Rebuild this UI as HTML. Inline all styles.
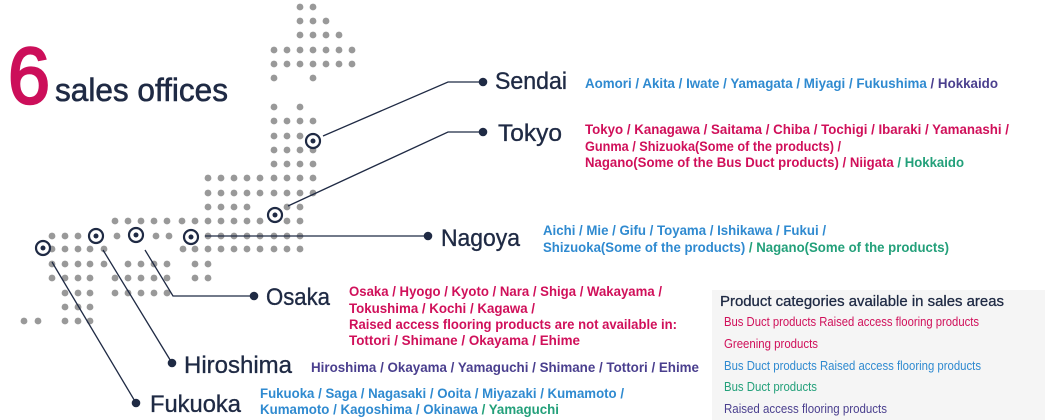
<!DOCTYPE html>
<html><head><meta charset="utf-8"><style>
html,body{margin:0;padding:0;background:#fff;}
svg{display:block;font-family:"Liberation Sans",sans-serif;}
.d circle{fill:#999;}
.n{fill:#1f2a44;font-size:24px;stroke:#1f2a44;stroke-width:0.35;}
.t{font-size:13.5px;font-weight:bold;}
.m{fill:#d0105a}.b{fill:#2f8ad0}.g{fill:#23a07a}.p{fill:#4a3f8e}
.l{font-size:12.5px;}
</style></head><body>
<svg width="1045" height="420" viewBox="0 0 1045 420">
<rect x="712" y="290" width="333" height="130" fill="#f5f5f5"/>
<g class="d">
<circle cx="300" cy="7" r="3.4"/><circle cx="313" cy="7" r="3.4"/>
<circle cx="300" cy="21" r="3.4"/><circle cx="313" cy="21" r="3.4"/><circle cx="326" cy="21" r="3.4"/>
<circle cx="300" cy="35" r="3.4"/><circle cx="313" cy="35" r="3.4"/><circle cx="326" cy="35" r="3.4"/><circle cx="339" cy="35" r="3.4"/>
<circle cx="274" cy="50" r="3.4"/><circle cx="287" cy="50" r="3.4"/><circle cx="300" cy="50" r="3.4"/><circle cx="313" cy="50" r="3.4"/><circle cx="326" cy="50" r="3.4"/><circle cx="339" cy="50" r="3.4"/><circle cx="352" cy="50" r="3.4"/>
<circle cx="274" cy="64" r="3.4"/><circle cx="287" cy="64" r="3.4"/><circle cx="300" cy="64" r="3.4"/><circle cx="313" cy="64" r="3.4"/><circle cx="326" cy="64" r="3.4"/><circle cx="339" cy="64" r="3.4"/><circle cx="352" cy="64" r="3.4"/>
<circle cx="274" cy="78" r="3.4"/><circle cx="313" cy="78" r="3.4"/>
<circle cx="274" cy="107" r="3.4"/><circle cx="300" cy="107" r="3.4"/>
<circle cx="274" cy="121" r="3.4"/><circle cx="287" cy="121" r="3.4"/><circle cx="300" cy="121" r="3.4"/><circle cx="313" cy="121" r="3.4"/>
<circle cx="274" cy="136" r="3.4"/><circle cx="287" cy="136" r="3.4"/><circle cx="300" cy="136" r="3.4"/>
<circle cx="274" cy="150" r="3.4"/><circle cx="287" cy="150" r="3.4"/><circle cx="300" cy="150" r="3.4"/><circle cx="313" cy="150" r="3.4"/>
<circle cx="274" cy="164" r="3.4"/><circle cx="287" cy="164" r="3.4"/><circle cx="300" cy="164" r="3.4"/><circle cx="313" cy="164" r="3.4"/>
<circle cx="208" cy="178" r="3.4"/><circle cx="221" cy="178" r="3.4"/><circle cx="234" cy="178" r="3.4"/><circle cx="247" cy="178" r="3.4"/><circle cx="260" cy="178" r="3.4"/><circle cx="274" cy="178" r="3.4"/><circle cx="287" cy="178" r="3.4"/><circle cx="300" cy="178" r="3.4"/><circle cx="313" cy="178" r="3.4"/>
<circle cx="208" cy="193" r="3.4"/><circle cx="221" cy="193" r="3.4"/><circle cx="234" cy="193" r="3.4"/><circle cx="247" cy="193" r="3.4"/><circle cx="260" cy="193" r="3.4"/><circle cx="274" cy="193" r="3.4"/><circle cx="287" cy="193" r="3.4"/><circle cx="300" cy="193" r="3.4"/><circle cx="313" cy="193" r="3.4"/>
<circle cx="208" cy="207" r="3.4"/><circle cx="221" cy="207" r="3.4"/><circle cx="234" cy="207" r="3.4"/><circle cx="247" cy="207" r="3.4"/><circle cx="287" cy="207" r="3.4"/><circle cx="300" cy="207" r="3.4"/>
<circle cx="115" cy="221" r="3.4"/><circle cx="128" cy="221" r="3.4"/><circle cx="141" cy="221" r="3.4"/><circle cx="154" cy="221" r="3.4"/><circle cx="167" cy="221" r="3.4"/><circle cx="182" cy="221" r="3.4"/><circle cx="195" cy="221" r="3.4"/><circle cx="208" cy="221" r="3.4"/><circle cx="221" cy="221" r="3.4"/><circle cx="234" cy="221" r="3.4"/><circle cx="247" cy="221" r="3.4"/><circle cx="260" cy="221" r="3.4"/><circle cx="287" cy="221" r="3.4"/><circle cx="300" cy="221" r="3.4"/>
<circle cx="52" cy="236" r="3.4"/><circle cx="65" cy="236" r="3.4"/><circle cx="78" cy="236" r="3.4"/><circle cx="117" cy="236" r="3.4"/><circle cx="156" cy="236" r="3.4"/><circle cx="169" cy="236" r="3.4"/><circle cx="208" cy="236" r="3.4"/><circle cx="221" cy="236" r="3.4"/><circle cx="234" cy="236" r="3.4"/><circle cx="247" cy="236" r="3.4"/><circle cx="260" cy="236" r="3.4"/><circle cx="274" cy="236" r="3.4"/><circle cx="287" cy="236" r="3.4"/><circle cx="300" cy="236" r="3.4"/>
<circle cx="52" cy="249" r="3.4"/><circle cx="65" cy="249" r="3.4"/><circle cx="78" cy="249" r="3.4"/><circle cx="90" cy="249" r="3.4"/><circle cx="104" cy="249" r="3.4"/><circle cx="183" cy="249" r="3.4"/><circle cx="195" cy="249" r="3.4"/><circle cx="208" cy="249" r="3.4"/><circle cx="221" cy="249" r="3.4"/><circle cx="234" cy="249" r="3.4"/><circle cx="247" cy="249" r="3.4"/><circle cx="260" cy="249" r="3.4"/><circle cx="274" cy="249" r="3.4"/><circle cx="287" cy="249" r="3.4"/><circle cx="300" cy="249" r="3.4"/>
<circle cx="52" cy="264" r="3.4"/><circle cx="65" cy="264" r="3.4"/><circle cx="78" cy="264" r="3.4"/><circle cx="90" cy="264" r="3.4"/><circle cx="104" cy="264" r="3.4"/><circle cx="128" cy="264" r="3.4"/><circle cx="141" cy="264" r="3.4"/><circle cx="154" cy="264" r="3.4"/><circle cx="167" cy="264" r="3.4"/><circle cx="195" cy="264" r="3.4"/><circle cx="208" cy="264" r="3.4"/>
<circle cx="52" cy="278" r="3.4"/><circle cx="65" cy="278" r="3.4"/><circle cx="78" cy="278" r="3.4"/><circle cx="90" cy="278" r="3.4"/><circle cx="115" cy="278" r="3.4"/><circle cx="128" cy="278" r="3.4"/><circle cx="141" cy="278" r="3.4"/><circle cx="154" cy="278" r="3.4"/><circle cx="167" cy="278" r="3.4"/><circle cx="195" cy="278" r="3.4"/><circle cx="208" cy="278" r="3.4"/>
<circle cx="65" cy="293" r="3.4"/><circle cx="78" cy="293" r="3.4"/><circle cx="90" cy="293" r="3.4"/><circle cx="115" cy="293" r="3.4"/><circle cx="128" cy="293" r="3.4"/><circle cx="141" cy="293" r="3.4"/><circle cx="154" cy="293" r="3.4"/><circle cx="167" cy="293" r="3.4"/>
<circle cx="65" cy="307" r="3.4"/><circle cx="78" cy="307" r="3.4"/><circle cx="90" cy="307" r="3.4"/>
<circle cx="24" cy="321" r="3.4"/><circle cx="38" cy="321" r="3.4"/><circle cx="65" cy="321" r="3.4"/><circle cx="78" cy="321" r="3.4"/><circle cx="90" cy="321" r="3.4"/>
</g>
<g stroke="#1f2a44" stroke-width="1.3" fill="none">
<polyline points="323,136 448,82 483,82"/>
<polyline points="288,206 448,132 483,132"/>
<polyline points="205,236 428,236"/>
<polyline points="145,250 173,296 254,296"/>
<line x1="103" y1="250" x2="172" y2="363"/>
<line x1="52" y1="262" x2="136" y2="403"/>
</g>
<g fill="#1f2a44">
<circle cx="483" cy="82" r="4.3"/><circle cx="483" cy="132" r="4.3"/><circle cx="428" cy="236" r="4.3"/><circle cx="254" cy="296" r="4.3"/><circle cx="172" cy="363" r="4.3"/><circle cx="136" cy="403" r="4.3"/>
</g>
<g stroke="#1f2a44" stroke-width="2.2" fill="#fff">
<circle cx="313" cy="141" r="7"/><circle cx="275" cy="215" r="7"/><circle cx="191" cy="237" r="7"/><circle cx="136" cy="235" r="7"/><circle cx="96" cy="236" r="7"/><circle cx="43" cy="248" r="7"/>
</g>
<g fill="#1f2a44">
<circle cx="313" cy="141" r="2.5"/><circle cx="275" cy="215" r="2.5"/><circle cx="191" cy="237" r="2.5"/><circle cx="136" cy="235" r="2.5"/><circle cx="96" cy="236" r="2.5"/><circle cx="43" cy="248" r="2.5"/>
</g>
<text x="8" y="103" font-size="80" fill="#cc0f5a" stroke="#cc0f5a" stroke-width="2.5" textLength="42" lengthAdjust="spacingAndGlyphs">6</text>
<text x="55" y="101" font-size="32" fill="#1f2a44" stroke="#1f2a44" stroke-width="0.6" textLength="173" lengthAdjust="spacingAndGlyphs">sales offices</text>
<text class="n" x="495" y="89" textLength="72" lengthAdjust="spacingAndGlyphs">Sendai</text>
<text class="n" x="498" y="141" textLength="64" lengthAdjust="spacingAndGlyphs">Tokyo</text>
<text class="n" x="441" y="246" textLength="79" lengthAdjust="spacingAndGlyphs">Nagoya</text>
<text class="n" x="266" y="305" textLength="64" lengthAdjust="spacingAndGlyphs">Osaka</text>
<text class="n" x="184" y="373" textLength="108" lengthAdjust="spacingAndGlyphs">Hiroshima</text>
<text class="n" x="150" y="412" textLength="91" lengthAdjust="spacingAndGlyphs">Fukuoka</text>
<g class="t">
<text x="585" y="88" textLength="413" lengthAdjust="spacingAndGlyphs"><tspan class="b">Aomori / Akita / Iwate / Yamagata / Miyagi / Fukushima </tspan><tspan class="p">/ Hokkaido</tspan></text>
<text class="m" x="585" y="134" textLength="424" lengthAdjust="spacingAndGlyphs">Tokyo / Kanagawa / Saitama / Chiba / Tochigi / Ibaraki / Yamanashi /</text>
<text class="m" x="585" y="151" textLength="256" lengthAdjust="spacingAndGlyphs">Gunma / Shizuoka(Some of the products) /</text>
<text x="585" y="167" textLength="379" lengthAdjust="spacingAndGlyphs"><tspan class="m">Nagano(Some of the Bus Duct products) / Niigata </tspan><tspan class="g">/ Hokkaido</tspan></text>
<text class="b" x="543" y="235" textLength="283" lengthAdjust="spacingAndGlyphs">Aichi / Mie / Gifu / Toyama / Ishikawa / Fukui /</text>
<text x="543" y="252" textLength="406" lengthAdjust="spacingAndGlyphs"><tspan class="b">Shizuoka(Some of the products) </tspan><tspan class="g">/ Nagano(Some of the products)</tspan></text>
<text class="m" x="349" y="296" textLength="313" lengthAdjust="spacingAndGlyphs">Osaka / Hyogo / Kyoto / Nara / Shiga / Wakayama /</text>
<text class="m" x="349" y="313" textLength="186" lengthAdjust="spacingAndGlyphs">Tokushima / Kochi / Kagawa /</text>
<text class="m" x="349" y="329" textLength="328" lengthAdjust="spacingAndGlyphs">Raised access  flooring products are not available in:</text>
<text class="m" x="349" y="345" textLength="231" lengthAdjust="spacingAndGlyphs">Tottori / Shimane / Okayama / Ehime</text>
<text class="p" x="311" y="372" textLength="388" lengthAdjust="spacingAndGlyphs">Hiroshima / Okayama / Yamaguchi / Shimane / Tottori / Ehime</text>
<text class="b" x="260" y="398" textLength="364" lengthAdjust="spacingAndGlyphs">Fukuoka / Saga / Nagasaki / Ooita / Miyazaki / Kumamoto /</text>
<text x="260" y="414" textLength="299" lengthAdjust="spacingAndGlyphs"><tspan class="b">Kumamoto / Kagoshima / Okinawa </tspan><tspan class="g">/ Yamaguchi</tspan></text>
</g>
<text x="720" y="306" font-size="15" fill="#1f2a44" stroke="#1f2a44" stroke-width="0.3" textLength="284" lengthAdjust="spacingAndGlyphs">Product categories available in sales areas</text>
<g class="l">
<text class="m" x="724" y="326" textLength="255" lengthAdjust="spacingAndGlyphs">Bus Duct products  Raised access flooring products</text>
<text class="m" x="724" y="348" textLength="94" lengthAdjust="spacingAndGlyphs">Greening products</text>
<text class="b" x="724" y="370" textLength="257" lengthAdjust="spacingAndGlyphs">Bus Duct products  Raised access  flooring products</text>
<text class="g" x="724" y="391" textLength="93" lengthAdjust="spacingAndGlyphs">Bus Duct products</text>
<text class="p" x="724" y="413" textLength="163" lengthAdjust="spacingAndGlyphs">Raised access flooring  products</text>
</g>
</svg>
</body></html>
